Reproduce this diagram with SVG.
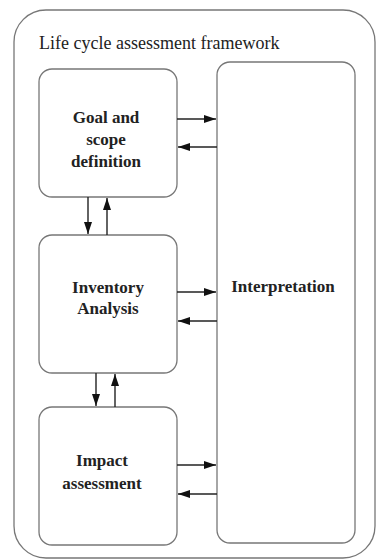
<svg xmlns="http://www.w3.org/2000/svg" width="377" height="560" viewBox="0 0 377 560">
<defs>
<marker id="ah" viewBox="0 0 10 10" refX="10" refY="5" markerWidth="12" markerHeight="8" markerUnits="userSpaceOnUse" orient="auto-start-reverse" preserveAspectRatio="none">
<path d="M0,0 L10,5 L0,10 z" fill="#111"/>
</marker>
<style>
.box{fill:#fff;stroke:#777;stroke-width:1.3}
.t{font-family:"Liberation Serif","Times New Roman","DejaVu Serif",serif;font-weight:bold;font-size:17px;fill:#222;text-anchor:middle}
.h{font-family:"Liberation Serif","Times New Roman","DejaVu Serif",serif;font-size:18px;fill:#222}
.c{stroke:#222;stroke-width:1.4;fill:none;marker-end:url(#ah)}
</style>
</defs>
<rect width="377" height="560" fill="#fff"/>
<g id="frame">
<rect class="box" x="14" y="10" width="361" height="548" rx="32"/>
<text class="h" x="39" y="49">Life cycle assessment framework</text>
</g>
<g id="goal">
<rect class="box" x="39" y="69" width="138" height="128" rx="13"/>
<text class="t" x="106" y="123">Goal and</text>
<text class="t" x="106" y="145">scope</text>
<text class="t" x="106" y="167">definition</text>
</g>
<g id="inventory">
<rect class="box" x="39" y="235" width="138" height="138" rx="13"/>
<text class="t" x="108" y="293">Inventory</text>
<text class="t" x="108" y="314">Analysis</text>
</g>
<g id="impact">
<rect class="box" x="39" y="407" width="138" height="138" rx="13"/>
<text class="t" x="102" y="466">Impact</text>
<text class="t" x="102" y="489">assessment</text>
</g>
<g id="interpretation">
<rect class="box" x="217" y="62" width="138" height="481" rx="13"/>
<text class="t" x="283" y="292">Interpretation</text>
</g>
<g id="connectors">
<line class="c" x1="177" y1="119" x2="216" y2="119"/>
<line class="c" x1="217" y1="147" x2="178" y2="147"/>
<line class="c" x1="88" y1="197" x2="88" y2="234"/>
<line class="c" x1="107" y1="235" x2="107" y2="198"/>
<line class="c" x1="177" y1="292" x2="216" y2="292"/>
<line class="c" x1="217" y1="321" x2="178" y2="321"/>
<line class="c" x1="96" y1="373" x2="96" y2="406"/>
<line class="c" x1="115" y1="407" x2="115" y2="374"/>
<line class="c" x1="177" y1="465" x2="216" y2="465"/>
<line class="c" x1="217" y1="494" x2="178" y2="494"/>
</g>
</svg>
